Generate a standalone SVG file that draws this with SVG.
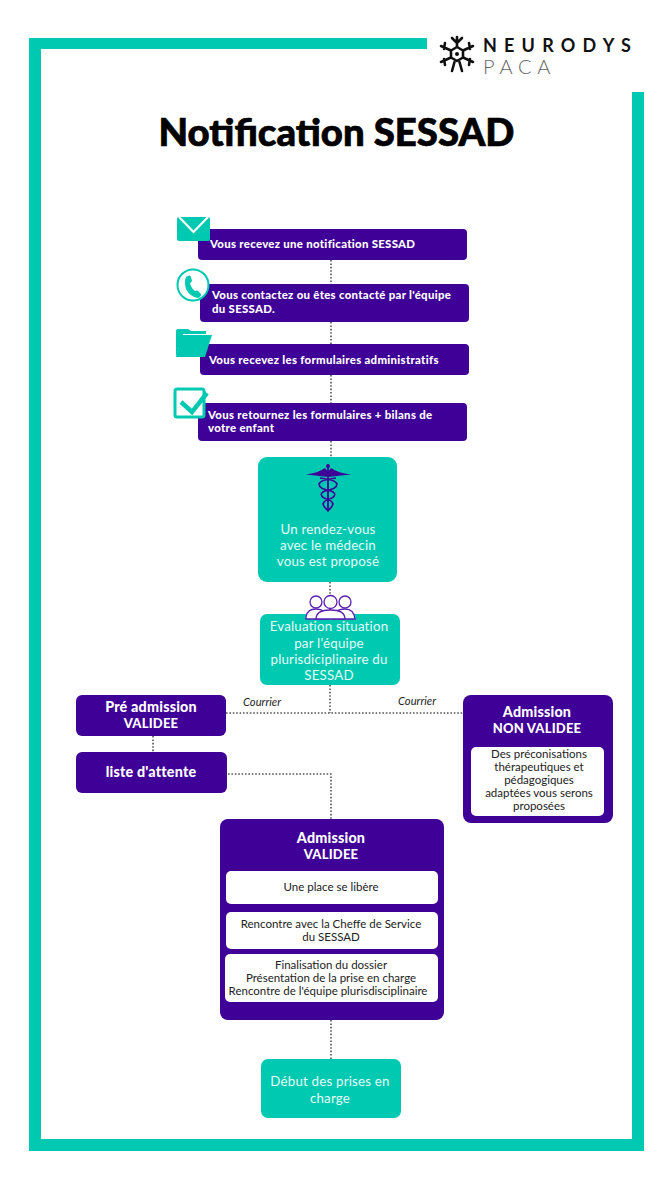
<svg xmlns="http://www.w3.org/2000/svg" width="672" height="1195" viewBox="0 0 672 1195">
<style>
.teal{fill:#00c9b1}
.purple{fill:#3f0097}
.white{fill:#fff}
.conn{fill:none;stroke:#555;stroke-width:1.6;stroke-dasharray:1.6 1.8}
text{font-family:"Lato","Liberation Sans",sans-serif;text-anchor:middle}
.step{font-size:11.4px;font-weight:900;fill:#fff;text-anchor:start;letter-spacing:.3px}
.head{font-size:14.300px;font-weight:900;fill:#fff;letter-spacing:.2px}
.caps{font-size:13px}
.tl{font-size:13.300px;font-weight:400;fill:#e6fbf8;letter-spacing:.2px}
.small{font-size:11.500px;fill:#222}
.cour{font-size:11.200px;font-style:italic;fill:#222}
.pu{fill:none;stroke:#5a1fb0;stroke-width:1.3}
</style>
<rect width="672" height="1195" fill="#fff"/>
<g id="frame">
<path class="teal" d="M29 38H427V49H41V1139H632V92H644V1151H29Z"/>
</g>
<g id="logo">
<g fill="none" stroke="#111" stroke-width="2.600" stroke-linecap="round" stroke-linejoin="round">
<path d="M457 47L463 50.500V57.500L457 61L451 57.500V50.500Z"/>
<path d="M457 47V37M452 38L457 43L462 38M452 71L454.500 62M462 71L459.500 62M451 50.500L441 46M445 43L444 49M463 50.500L473 46M469 43L470 49M451 57.500L441 62M445 65L444 59M463 57.500L473 62M469 65L470 59"/>
</g>
<circle cx="457" cy="54" r="2" fill="#111"/>
<text x="483" y="52" style="text-anchor:start;font-size:18px;font-weight:700;letter-spacing:7.200px" fill="#111">NEURODYS</text>
<text x="483" y="74" style="text-anchor:start;font-size:20px;font-weight:300;letter-spacing:5.800px" fill="#666">PACA</text>
</g>
<text id="title" x="336.500" y="146" style="font-size:38.300px;font-weight:900;stroke:#000;stroke-width:.7" fill="#000">Notification SESSAD</text>
<g id="connectors">
<path class="conn" d="M331 260V284M331 322V344M331 375V403M331 441V457M330 582V614M330 685V713M226 713H463M153 736V752M228 774H331V819M331 1020V1059"/>
</g>
<g id="step1">
<rect class="purple" x="198" y="229" width="269" height="31" rx="4"/>
<text class="step" x="210" y="248">Vous recevez une notification SESSAD</text>
<rect class="teal" x="177" y="217" width="33" height="24" rx="2"/>
<path d="M179 217L193.500 232L208 217" fill="none" stroke="#fff" stroke-width="2.200"/>
</g>
<g id="step2">
<rect class="purple" x="200" y="284" width="269" height="38" rx="4"/>
<text class="step" x="212" y="299">Vous contactez ou êtes contacté par l'équipe</text>
<text class="step" x="212" y="313">du SESSAD.</text>
<circle cx="193" cy="285" r="15.500" stroke="#00c9b1" stroke-width="2" fill="#fff"/>
<path d="M186 277Q190 274 191 277L192 281Q191 283 190 283Q191 288 195 291Q197 290 198 291L201 294Q201 297 198 298Q190 297 186 289Q184 282 186 277Z" fill="#00c9b1"/>
</g>
<g id="step3">
<rect class="purple" x="200" y="344" width="269" height="31" rx="4"/>
<text class="step" x="209" y="364">Vous recevez les formulaires administratifs</text>
<path class="teal" d="M176 357V331Q176 329 178 329H188L191 331H206V334H183Z"/>
<path class="teal" d="M182 335H212L205 357H176Z"/>
</g>
<g id="step4">
<rect class="purple" x="198" y="403" width="269" height="38" rx="4"/>
<text class="step" x="208" y="419">Vous retournez les formulaires + bilans de</text>
<text class="step" x="208" y="432">votre enfant</text>
<rect x="175" y="389" width="29" height="28" rx="2" fill="#fff" stroke="#00c9b1" stroke-width="3"/>
<path d="M181 402L192 412L207 393" fill="none" stroke="#00c9b1" stroke-width="4.500"/>
</g>
<g id="medecin">
<rect class="teal" x="258" y="457" width="139" height="125" rx="9"/>
<g fill="none" stroke="#3f0097" stroke-width="1.600">
<path d="M328 466V511" stroke-width="1.800"/>
<path d="M336 478Q320 480 319 484Q319 489 331 491Q338 494 332 498Q324 500 323 504Q324 508 329 511M320 478Q336 480 337 484Q337 489 325 491Q318 494 324 498Q332 500 333 504Q332 508 327 511"/>
</g>
<circle cx="328" cy="466" r="2" fill="#3f0097"/>
<path d="M306 474.500Q318 473 325 468L328 472L331 468Q338 473 351 474.500Q338 475.500 328 477Q318 475.500 306 474.500Z" fill="#3f0097"/>
<text class="tl" x="328" y="534">Un rendez-vous</text>
<text class="tl" x="328" y="550">avec le médecin</text>
<text class="tl" x="328" y="566">vous est proposé</text>
</g>
<g id="evaluation">
<rect class="teal" x="260" y="614" width="140" height="71" rx="7"/>
<g class="pu">
<circle cx="316" cy="602" r="6" fill="#fff"/><circle cx="345" cy="602" r="6" fill="#fff"/>
<path d="M306 619V617Q307 609 316 609Q326 609 328 619ZM333 619Q334 609 345 609Q354 609 355 619Z" fill="#fff"/>
<circle cx="330.500" cy="602" r="6.500" fill="#fff"/>
<path d="M316 619Q316 610 330.500 610Q345 610 345 619Z" fill="#fff"/>
</g>
<text class="tl" x="329" y="631">Evaluation situation</text>
<text class="tl" x="329" y="648">par l'équipe</text>
<text class="tl" x="329" y="664">plurisdiciplinaire du</text>
<text class="tl" x="329" y="680">SESSAD</text>
</g>
<text class="cour" id="courrier1" x="262" y="706">Courrier</text>
<text class="cour" id="courrier2" x="417" y="705">Courrier</text>
<g id="preadmission">
<rect class="purple" x="76" y="695" width="150" height="41" rx="6"/>
<text class="head" x="151" y="712">Pré admission</text>
<text class="head caps" x="151" y="728">VALIDEE</text>
</g>
<g id="attente">
<rect class="purple" x="76" y="752" width="151" height="41" rx="6"/>
<text class="head" x="151" y="777">liste d'attente</text>
</g>
<g id="nonvalidee">
<rect class="purple" x="463" y="695" width="150" height="128" rx="8"/>
<text class="head" x="537" y="717">Admission</text>
<text class="head caps" x="537" y="733">NON VALIDEE</text>
<rect class="white" x="471" y="747" width="133" height="69" rx="5"/>
<text class="small" x="539" y="758">Des préconisations</text>
<text class="small" x="539" y="771">thérapeutiques et</text>
<text class="small" x="539" y="784">pédagogiques</text>
<text class="small" x="539" y="797">adaptées vous serons</text>
<text class="small" x="539" y="810">proposées</text>
</g>
<g id="validee">
<rect class="purple" x="220" y="819" width="224" height="201" rx="8"/>
<text class="head" x="331" y="843">Admission</text>
<text class="head caps" x="331" y="859">VALIDEE</text>
<rect class="white" x="226" y="871" width="212" height="33" rx="5"/>
<text class="small" x="331" y="891">Une place se libère</text>
<rect class="white" x="226" y="912" width="212" height="37" rx="5"/>
<text class="small" x="331" y="928">Rencontre avec la Cheffe de Service</text>
<text class="small" x="331" y="941">du SESSAD</text>
<rect class="white" x="225" y="954" width="213" height="48" rx="5"/>
<text class="small" x="331" y="969">Finalisation du dossier</text>
<text class="small" x="331" y="982">Présentation de la prise en charge</text>
<text class="small" x="328" y="995">Rencontre de l'équipe plurisdisciplinaire</text>
</g>
<g id="debut">
<rect class="teal" x="261" y="1059" width="140" height="59" rx="7"/>
<text class="tl" x="330" y="1086">Début des prises en</text>
<text class="tl" x="330" y="1103">charge</text>
</g>
</svg>
